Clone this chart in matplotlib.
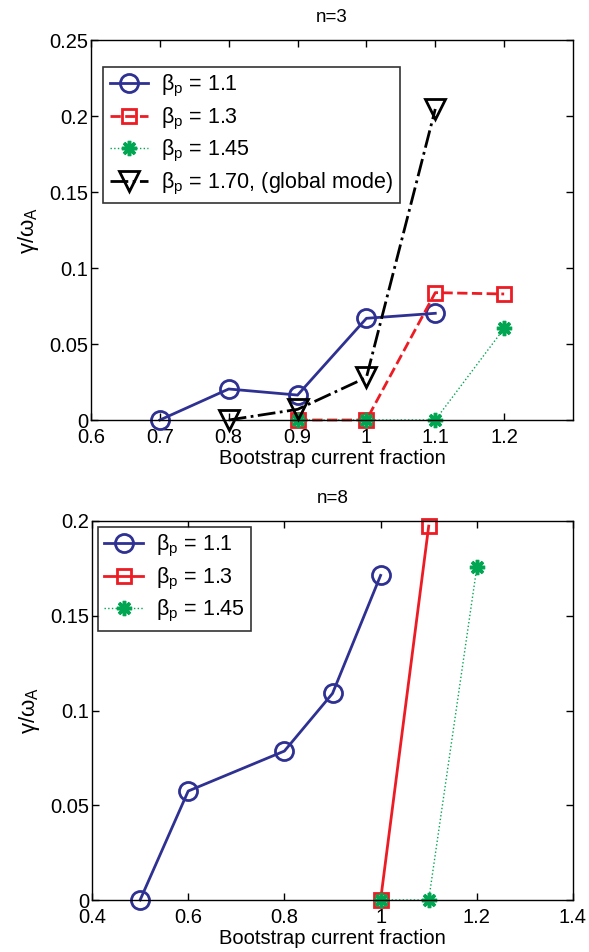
import matplotlib
matplotlib.use("Agg")
import matplotlib.pyplot as plt

plt.rcParams['font.family'] = ['Liberation Sans', 'DejaVu Sans']
plt.rcParams['mathtext.fontset'] = 'custom'
plt.rcParams['mathtext.rm'] = 'Liberation Sans'

# ---- data: n=3 ----
n3_x_b110 = [0.7, 0.8, 0.9, 1.0, 1.1]
n3_y_b110 = [0.0, 0.0204, 0.0164, 0.0669, 0.0702]
n3_x_b130 = [0.9, 1.0, 1.1, 1.2]
n3_y_b130 = [0.0, 0.0, 0.0838, 0.0829]
n3_x_b145 = [0.9, 1.0, 1.1, 1.2]
n3_y_b145 = [0.0, 0.0, 0.0, 0.0603]
n3_x_b170 = [0.8, 0.9, 1.0, 1.1]
n3_y_b170 = [0.0, 0.0070, 0.0280, 0.2046]

# ---- data: n=8 ----
n8_x_b110 = [0.5, 0.6, 0.8, 0.9, 1.0]
n8_y_b110 = [0.0, 0.0575, 0.0786, 0.1090, 0.1713]
n8_x_b130 = [1.0, 1.1]
n8_y_b130 = [0.0, 0.1973]
n8_x_b145 = [1.0, 1.1, 1.2]
n8_y_b145 = [0.0, 0.0, 0.1755]

labels3 = [r'β$_\mathregular{p}$ = 1.1', r'β$_\mathregular{p}$ = 1.3',
           r'β$_\mathregular{p}$ = 1.45', r'β$_\mathregular{p}$ = 1.70, (global mode)']
labels8 = labels3[:3]

n3_xticks = [0.6, 0.7, 0.8, 0.9, 1.0, 1.1, 1.2]
n3_xticklabels = ['0.6', '0.7', '0.8', '0.9', '1', '1.1', '1.2']
n3_yticks = [0, 0.05, 0.1, 0.15, 0.2, 0.25]
n3_yticklabels = ['0', '0.05', '0.1', '0.15', '0.2', '0.25']
n8_xticks = [0.4, 0.6, 0.8, 1.0, 1.2, 1.4]
n8_xticklabels = ['0.4', '0.6', '0.8', '1', '1.2', '1.4']
n8_yticks = [0, 0.05, 0.1, 0.15, 0.2]
n8_yticklabels = ['0', '0.05', '0.1', '0.15', '0.2']

BLUE = '#2e3192'
RED = '#ed1c24'
GREEN = '#00a651'
BLACK = '#000000'
STAR = (8, 2, 0)

W, H = 589, 952
fig = plt.figure(figsize=(W / 100, H / 100), dpi=100)

def rect(l, t, r, b):
    return [l / W, 1 - b / H, (r - l) / W, (b - t) / H]

ax1 = fig.add_axes(rect(91, 40, 573, 420))
ax2 = fig.add_axes(rect(92, 521, 573, 900))

ax1.plot(n3_x_b110, n3_y_b110, '-', color=BLUE, lw=2, marker='o', ms=13,
         mfc='none', mec=BLUE, mew=2, label=labels3[0], clip_on=False)
ax1.plot(n3_x_b130, n3_y_b130, '--', color=RED, lw=2, marker='s', ms=10,
         mfc='none', mec=RED, mew=2, label=labels3[1], clip_on=False)
ax1.plot(n3_x_b145, n3_y_b145, ':', color=GREEN, lw=1, marker=STAR, ms=11,
         mec=GREEN, mew=2.5, label=labels3[2], clip_on=False)
ax1.plot(n3_x_b170, n3_y_b170, '-.', color=BLACK, lw=2, marker='v', ms=14,
         mfc='none', mec=BLACK, mew=2, label=labels3[3], clip_on=False)

ax2.plot(n8_x_b110, n8_y_b110, '-', color=BLUE, lw=2, marker='o', ms=13,
         mfc='none', mec=BLUE, mew=2, label=labels8[0], clip_on=False)
ax2.plot(n8_x_b130, n8_y_b130, '-', color=RED, lw=2, marker='s', ms=10,
         mfc='none', mec=RED, mew=2, label=labels8[1], clip_on=False)
ax2.plot(n8_x_b145, n8_y_b145, ':', color=GREEN, lw=1, marker=STAR, ms=11,
         mec=GREEN, mew=2.5, label=labels8[2], clip_on=False)

for ax, xl, xt, xtl, yl, yt, ytl, title in [
        (ax1, (0.6, 1.3), n3_xticks, n3_xticklabels, (0, 0.25), n3_yticks, n3_yticklabels, 'n=3'),
        (ax2, (0.4, 1.4), n8_xticks, n8_xticklabels, (0, 0.2), n8_yticks, n8_yticklabels, 'n=8')]:
    ax.set_xlim(*xl)
    ax.set_ylim(*yl)
    ax.set_xticks(xt)
    ax.set_xticklabels(xtl)
    ax.set_yticks(yt)
    ax.set_yticklabels(ytl)
    ax.tick_params(direction='in', top=True, right=True, length=5, width=1,
                   labelsize=14.5, pad=2)
    ax.tick_params(axis='x', pad=6)
    for s in ax.spines.values():
        s.set_linewidth(1)
    ax.set_xlabel('Bootstrap current fraction', fontsize=14.5, labelpad=1)
    ax.set_ylabel(r'γ/ω$_\mathregular{A}$', fontsize=16, labelpad=6)
    ax.set_title(title, fontsize=13.5, pad=13)

leg_kw = dict(loc='upper left', fontsize=15.5, frameon=True, fancybox=False,
              edgecolor='black', handlelength=1.8, labelspacing=0.3,
              borderpad=0.3, handletextpad=0.6, borderaxespad=0)
leg1 = ax1.legend(bbox_to_anchor=(0.025, 0.93), **leg_kw)
leg1.get_frame().set_linewidth(1.2)
leg2 = ax2.legend(bbox_to_anchor=(0.012, 0.985), **leg_kw)
leg2.get_frame().set_linewidth(1.2)

fig.savefig('out.png', dpi=100)
